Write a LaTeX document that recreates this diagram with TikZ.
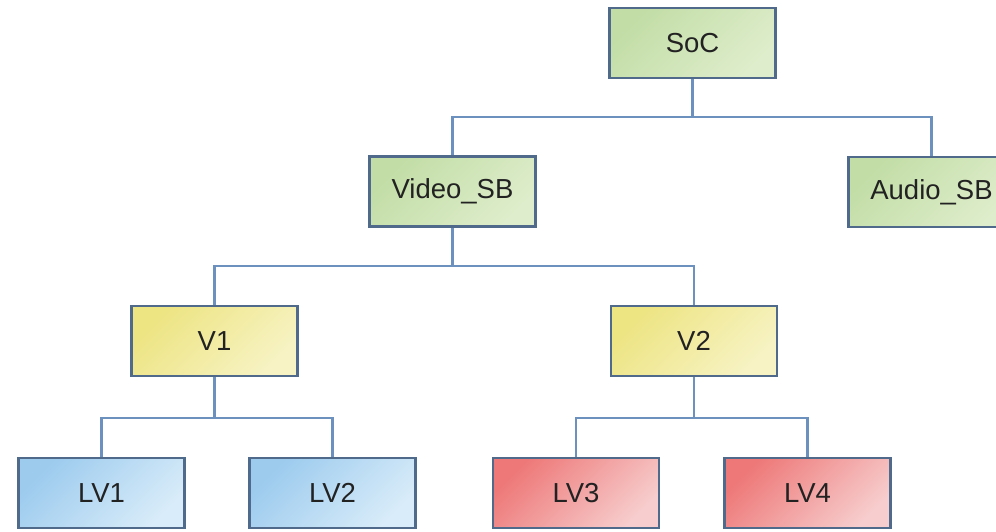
\documentclass[tikz,border=0pt]{standalone}
\usepackage{fontspec}
\setmainfont{Liberation Sans}
\begin{document}
\begin{tikzpicture}[x=1pt,y=-1pt,
  box/.style={draw=boxedge, line width=2.8pt, minimum width=166pt, minimum height=70pt,
              inner sep=0pt, text=textcol, font=\fontsize{27.5}{32}\selectfont,
              shading=axis},
  greenbox/.style={box, top color=green1, bottom color=green2, shading angle=45},
  yellowbox/.style={box, top color=yellow1, bottom color=yellow2, shading angle=45},
  bluebox/.style={box, top color=blue1, bottom color=blue2, shading angle=45},
  redbox/.style={box, top color=red1, bottom color=red2, shading angle=45},
  conn/.style={draw=wire, line width=2.8pt}]
  \definecolor{boxedge}{HTML}{4F6A8A}
  \definecolor{wire}{HTML}{6C91BE}
  \definecolor{textcol}{HTML}{222222}
  \definecolor{green1}{HTML}{C2DDA6}
  \definecolor{green2}{HTML}{DEEDCB}
  \definecolor{yellow1}{HTML}{EDE482}
  \definecolor{yellow2}{HTML}{F7F3C4}
  \definecolor{blue1}{HTML}{9CCBEE}
  \definecolor{blue2}{HTML}{D9ECF9}
  \definecolor{red1}{HTML}{EE7878}
  \definecolor{red2}{HTML}{F7CDCD}

  \clip (0,0) rectangle (996,531);
  \fill[white] (0,0) rectangle (996,531);

  % bus heights
  \coordinate (bus1) at (0,117);
  \coordinate (bus2) at (0,266);
  \coordinate (bus3) at (0,418);

  % hierarchy blocks
  \node[greenbox]  (soc)   at (692.5,43)  {SoC};
  \node[greenbox]  (video) at (452.5,191.5) {Video\_SB};
  \node[greenbox]  (audio) at (931.5,192) {Audio\_SB};
  \node[yellowbox] (v1)    at (214.5,341) {V1};
  \node[yellowbox] (v2)    at (694,341)   {V2};
  \node[bluebox]   (lv1)   at (101.5,493) {LV1};
  \node[bluebox]   (lv2)   at (332.5,493) {LV2};
  \node[redbox]    (lv3)   at (576,493)   {LV3};
  \node[redbox]    (lv4)   at (807.5,493) {LV4};

  % tree connectors
  \draw[conn] (soc.south) -- (soc.south |- bus1) -| (video.north);
  \draw[conn] (soc.south |- bus1) -| (audio.north);
  \draw[conn] (video.south) -- (video.south |- bus2) -| (v1.north);
  \draw[conn] (video.south |- bus2) -| (v2.north);
  \draw[conn] (v1.south) -- (v1.south |- bus3) -| (lv1.north);
  \draw[conn] (v1.south |- bus3) -| (lv2.north);
  \draw[conn] (v2.south) -- (v2.south |- bus3) -| (lv3.north);
  \draw[conn] (v2.south |- bus3) -| (lv4.north);
\end{tikzpicture}
\end{document}
